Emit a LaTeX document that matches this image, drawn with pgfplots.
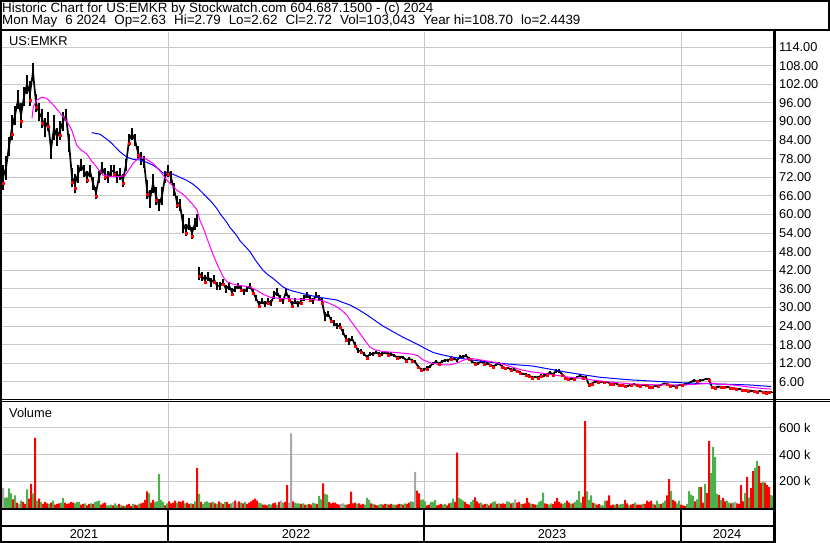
\documentclass[border=0pt]{standalone}
\usepackage{pgfplots}
\pgfplotsset{compat=1.18}
\usepackage{pgfplotstable}
\usepackage{fontspec}
\setmainfont{Liberation Sans}
\definecolor{gridc}{RGB}{200,200,200}
\definecolor{vred}{RGB}{255,0,0}
\definecolor{vgreen}{RGB}{76,177,76}
\definecolor{vgray}{RGB}{168,168,168}
\definecolor{maf}{RGB}{255,0,255}
\definecolor{mas}{RGB}{0,0,255}

\pgfplotstableread{
x c e m
3 72 4 1
6 75 4 0
9 82 3 0
12 88 4 1
15 92 3 0
18 97 3 0
21 92 4 1
24 98 3 0
27 102 3 0
30 99 4 1
33 106 3 0
36 96 3 1
39 93 3 0
42 91 3 1
45 88 3 0
48 90 3 1
51 81 3 0
54 88 4 0
57 85 3 0
60 87 3 1
63 90 3 0
66 92 2 0
69 83 3 0
72 72 3 1
75 70 3 1
78 73 3 0
81 76 2 0
84 74 2 0
87 72 2 1
90 74 2 0
93 70 2 0
96 67 2 1
99 72 2 0
102 75 2 0
105 73 2 1
108 72 2 0
111 74 2 0
114 74 2 1
117 72 2 0
120 73 2 0
123 71 2 1
126 76 2 0
129 84 2 1
132 86 2 0
135 84 2 0
138 80 2 1
141 78 2 0
144 77 2 0
147 68 3 1
150 65 3 0
153 70 3 0
156 66 3 1
159 63 2 0
162 66 3 0
165 72 2 0
168 74 2 1
171 72 2 0
174 68 2 0
177 64 2 1
180 63 2 0
183 57 3 0
186 55 2 1
189 57 2 0
192 54 2 1
195 57 2 0
197 58 2 0
198 nan 0 0
199 41 2 1
202 40 1.5 0
205 39 1.5 1
208 40 1.5 0
211 38 1.5 0
214 39 1.5 1
217 37 1.2 0
220 37 1.2 0
223 38 1.2 1
226 36 1.2 0
229 37 1.2 0
232 35 1.2 1
235 36 1 0
238 37 1 0
241 36 1 1
244 35 1 0
247 36 1 0
250 37 1 0
253 35 1 1
256 33 1 0
259 31 1 1
262 32 1 0
265 31 1 0
268 32 1 1
271 31.5 1 0
274 34 1.2 0
277 35 1.2 0
280 33 1 1
283 32 1 0
286 35 1.2 0
289 33 1 1
292 31 1 1
295 32 1 0
298 31 1 0
301 32 1 1
304 33 1 0
307 34 1 0
310 33 1 1
313 32 1 0
316 34 1 0
319 33 1 0
322 32 1 1
325 27 1.5 0
328 28 1 0
331 26 1 1
334 25 1 0
337 24 1 0
340 24 1 1
343 22 1 0
346 20 1 1
349 19 1 0
352 20 0.8 0
355 18 0.8 1
358 16 0.8 0
361 16 0.6 1
364 15 0.6 0
367 14 0.6 1
370 15 0.6 0
373 15 0.6 0
376 15.5 0.6 0
379 15 0.6 1
382 15 0.6 0
385 15.5 0.6 0
388 15 0.6 1
391 15 0.5 0
394 14.5 0.5 0
397 14 0.5 1
400 14 0.5 0
403 14 0.5 0
406 13 0.5 1
409 13.5 0.5 0
412 13 0.5 1
415 12.5 0.5 0
418 11 0.6 1
421 10 0.6 1
424 10 0.5 0
427 10.5 0.5 1
430 11 0.5 0
433 12 0.5 0
436 12.5 0.5 0
439 12 0.5 1
442 12.5 0.5 0
445 13 0.5 0
448 13 0.5 0
451 13.5 0.5 1
454 13.5 0.5 0
457 13 0.5 0
460 14 0.6 0
463 14 0.6 0
466 14.5 0.6 0
469 13.5 0.5 1
472 12.5 0.5 0
475 12 0.5 1
478 12 0.5 0
481 12.5 0.5 0
484 12 0.5 1
487 12 0.4 0
490 11.5 0.4 1
493 11 0.4 1
496 11.5 0.4 0
499 12 0.4 0
502 11 0.4 1
505 10.5 0.4 1
508 10.5 0.4 0
511 10 0.4 1
514 10 0.4 0
517 9.5 0.4 1
520 9 0.4 1
523 8.5 0.4 0
526 8.5 0.4 1
529 8 0.4 1
532 7.5 0.4 1
535 7.5 0.4 0
538 7.5 0.4 1
541 8 0.4 1
544 8 0.4 0
547 8.5 0.4 1
550 9 0.4 0
553 8.5 0.4 1
556 9.5 0.5 0
559 9.5 0.5 0
562 8.5 0.4 1
565 7.5 0.4 1
568 7 0.4 1
571 7 0.3 0
574 7 0.3 1
577 7.5 0.4 0
580 8 0.4 0
583 7.5 0.4 1
586 7.5 0.4 0
589 5 0.4 1
592 5.5 0.3 1
595 6 0.3 0
598 6 0.3 1
601 6 0.3 0
604 6 0.3 1
607 6 0.3 0
610 5.5 0.3 1
613 5.5 0.3 1
616 5.5 0.3 0
619 5 0.3 1
622 5 0.3 1
625 4.8 0.3 1
628 4.8 0.3 0
631 5 0.3 1
634 5.2 0.3 0
637 5 0.3 1
640 4.8 0.3 1
643 5 0.3 0
646 5 0.3 1
649 4.5 0.3 1
652 4.5 0.3 1
655 4.6 0.3 0
658 4.8 0.3 1
661 5 0.3 0
664 5.5 0.3 0
667 5.5 0.3 1
670 4.6 0.3 1
673 4.7 0.3 0
676 4.5 0.3 1
679 5 0.3 0
682 5 0.3 1
685 5.2 0.3 0
688 5.5 0.3 0
691 6 0.3 0
694 6.5 0.4 0
697 6.3 0.4 1
700 6.5 0.4 0
703 6.6 0.4 0
706 7 0.4 0
709 6.8 0.4 1
712 4.3 0.3 1
715 4.2 0.3 1
718 4.5 0.3 0
721 4.4 0.3 1
724 4.3 0.3 1
727 4.4 0.3 0
730 4.2 0.3 1
733 4 0.3 1
736 3.8 0.3 1
739 3.8 0.3 0
742 3.5 0.3 1
745 3.4 0.3 1
748 3.2 0.3 1
751 3.2 0.3 0
754 3 0.3 1
757 2.9 0.3 1
760 3 0.3 0
763 2.8 0.3 1
766 2.6 0.3 1
769 2.7 0.3 1
772 2.72 0.1 0
}\price

\pgfplotstableread{
x v
32 91
33.3 94.7
36.7 96.9
41.7 97.8
46.7 97.5
53.3 95.3
58 93.5
63.3 91.5
67 90
71.7 87.3
76.7 82.4
81 80.8
86.7 79.6
91 77.5
96.7 75.3
103 72.7
110 72.3
118 72.2
125 72.5
129 74.5
133 76.5
138 78
143 78.5
148 77.5
153 76.5
160 74
167 71
172 69.5
177 67.8
182 66.8
187 65.3
192 63.5
197 61.5
200 58
203.5 55.5
207 52.3
210 49.7
213.3 46.9
216.7 44.3
220 42
223.3 39.8
227 38.3
232 37.6
240 37.1
250 36.6
257 35.5
263 34.3
270 33.3
277 33
290 32.8
305 32.6
315 32.5
323 32.2
328 31.5
333 30.8
338 30
343 28.7
347 27.5
350 26
355 23.8
360 21.6
365 19.3
370 17.2
375 16.3
383 15.8
395 15.5
405 15.2
413 14.9
418 14.4
423 13.1
430 12.2
437 11.7
444 11.5
450 11.5
456 12
462 12.8
467 13.4
473 13.5
480 13.1
490 12.6
500 12
510 11
520 10
530 9.3
540 8.9
553 8.3
567 7.6
580 7.2
590 6.7
600 6.3
615 5.8
633 5.3
650 5.1
665 5
683 5
695 5.2
705 5.5
712 5.6
720 5.3
733 5
745 4.5
755 4.1
765 3.8
771 3.7
}\mafast

\pgfplotstableread{
x v
91.7 86.4
100 85.9
110 83.5
120 80.2
126.7 78.5
133 77.8
140 77.6
147 76.8
153 75.9
158 74.8
163 73.4
168 73.2
173 73
180 72
186.7 71
192 70
196.7 68.8
201 67.5
206.7 65.6
211 64.2
216.7 62
220 60.3
226.7 57.5
230 55.8
236.7 53.2
240 51.5
246.7 49.2
250 48
256 45
263 42
268 40.5
273 39.4
278 38
283 36.6
288 35.8
293 35.3
305 34.3
317 33.4
327 32.9
337 32.4
343 31.6
350 30.8
358 29.4
367 27.6
375 25.8
383 24
393 22.2
403 20.4
410 19.3
417 18.2
425 16.8
433 15.5
441 14.8
450 14.2
458 13.7
467 13.3
483 12.6
500 12
517 11.5
533 11.1
550 10.1
567 9.1
583 8.3
600 7.5
617 7
633 6.6
650 6.3
667 6
683 5.7
700 5.5
717 5.3
733 5.2
750 5
767 4.6
771 4.5
}\maslow

\pgfplotstableread{
x v k
3 150 2
5 75 1
7 80 1
9 148 1
11 110 1
13 65 0
15 95 1
17 40 0
19 30 2
21 55 1
23 45 0
25 30 0
27 140 1
29 70 0
31 180 0
33 110 1
35 525 0
37 55 1
39 70 0
41 45 1
43 30 0
45 45 0
47 35 0
49 30 1
51 40 0
53 55 1
55 25 0
57 30 0
59 35 0
61 40 1
63 75 1
65 40 0
67 30 0
69 35 0
71 45 0
73 40 0
75 35 1
77 45 1
79 45 1
81 25 0
83 30 0
85 35 1
87 20 0
89 30 0
91 35 1
93 30 0
95 45 1
97 50 1
99 55 1
101 25 0
103 35 0
105 40 0
107 20 1
109 20 1
111 25 1
113 20 0
115 35 1
117 20 1
119 30 0
121 20 1
123 15 0
125 15 1
127 25 0
129 30 0
131 15 0
133 30 1
135 25 0
137 20 0
139 30 1
141 35 0
143 40 0
145 60 0
147 125 0
149 110 1
151 40 0
153 60 0
155 45 1
157 50 1
159 255 1
161 60 1
163 45 1
165 20 0
167 35 1
169 50 0
171 35 0
173 40 0
175 55 0
177 40 1
179 50 0
181 45 0
183 55 0
185 35 1
187 40 0
189 30 0
191 35 1
193 30 0
195 50 1
197 300 0
199 105 1
201 45 0
203 30 1
205 45 1
207 50 1
209 40 1
211 40 0
213 45 1
215 35 0
217 30 1
219 50 0
221 40 1
223 30 0
225 45 1
227 45 0
229 30 0
231 35 1
233 45 2
235 55 0
237 40 2
239 50 0
241 40 1
243 35 0
245 45 1
247 30 0
249 40 0
251 50 0
253 60 0
255 70 0
257 55 0
259 40 1
261 35 1
263 25 0
265 25 0
267 20 0
269 30 1
271 25 1
273 35 0
275 40 0
277 25 1
279 45 0
281 55 2
283 40 1
285 45 0
287 172 0
289 40 2
291 560 2
293 50 0
295 40 1
297 35 1
299 35 1
301 30 0
303 35 1
305 25 0
307 25 1
309 30 0
311 25 0
313 40 1
315 35 1
317 30 0
319 90 1
321 65 1
323 185 0
325 105 1
327 100 1
329 45 0
331 35 0
333 40 0
335 40 0
337 30 0
339 25 0
341 30 2
343 35 2
345 25 1
347 25 0
349 30 0
351 123 0
353 35 0
355 40 0
357 30 1
359 35 0
361 25 0
363 30 0
365 25 1
367 75 1
369 60 1
371 35 0
373 30 1
375 25 0
377 20 0
379 25 1
381 30 1
383 25 0
385 30 0
387 30 1
389 25 0
391 30 0
393 25 1
395 25 1
397 25 0
399 30 0
401 30 1
403 25 0
405 35 1
407 30 0
409 40 0
411 50 1
413 45 1
415 270 2
417 130 0
419 110 0
421 60 1
423 65 1
425 50 1
427 20 0
429 25 0
431 45 1
433 45 1
435 60 1
437 20 0
439 25 0
441 30 0
443 25 1
445 30 1
447 20 0
449 35 0
451 40 1
453 70 1
455 45 0
457 415 0
459 75 1
461 65 1
463 55 1
465 45 0
467 30 0
469 25 0
471 45 1
473 60 1
475 80 0
477 50 0
479 35 0
481 40 1
483 25 0
485 30 0
487 30 1
489 20 0
491 35 0
493 45 1
495 50 1
497 30 0
499 35 1
501 30 0
503 35 0
505 30 0
507 50 1
509 45 1
511 35 0
513 40 1
515 65 2
517 40 0
519 45 0
521 30 1
523 30 0
525 35 0
527 75 0
529 40 0
531 30 1
533 30 0
535 25 0
537 25 1
539 45 1
541 55 1
543 115 1
545 35 0
547 30 0
549 25 1
551 35 1
553 30 0
555 50 0
557 75 0
559 45 0
561 35 0
563 30 1
565 40 1
567 55 0
569 40 0
571 30 1
573 35 0
575 45 1
577 60 1
579 127 1
581 40 1
583 85 0
585 652 0
587 125 1
589 60 1
591 95 1
593 40 0
595 35 1
597 25 0
599 30 0
601 20 1
603 20 1
605 55 1
607 55 0
609 95 0
611 20 0
613 25 0
615 25 1
617 30 0
619 25 1
621 30 1
623 30 1
625 60 0
627 35 0
629 20 1
631 25 0
633 30 0
635 40 1
637 25 0
639 25 0
641 25 0
643 30 1
645 30 0
647 55 0
649 45 0
651 55 0
653 30 1
655 25 0
657 55 1
659 30 1
661 30 0
663 40 1
665 55 1
667 95 0
669 217 0
671 127 1
673 60 0
675 50 0
677 35 1
679 55 1
681 25 0
683 20 0
685 15 0
687 30 1
689 127 1
691 100 1
693 90 1
695 50 0
697 65 1
699 157 1
701 157 0
703 40 0
705 180 1
707 112 0
709 502 0
711 262 1
713 457 1
715 382 1
717 105 1
719 97 0
721 60 1
723 75 0
725 50 0
727 55 1
729 40 1
731 35 0
733 40 1
735 45 2
737 35 0
739 30 0
741 172 0
743 50 0
745 112 1
747 232 0
749 80 1
751 150 0
753 277 0
755 300 1
757 352 1
759 315 0
761 187 0
763 195 1
765 190 0
767 172 0
769 157 0
771 97 1
773 90 1
}\vol

\begin{document}
\fontsize{12.8bp}{15bp}\selectfont
\begin{tikzpicture}[x=1bp,y=1bp]
\path[use as bounding box] (0,0) rectangle (830,543);

\begin{axis}[
  at={(2bp,143bp)}, anchor=south west, scale only axis,
  width=772bp, height=368bp,
  xmin=2, xmax=774, ymin=0.16, ymax=118.87,
  axis line style={draw=none},
  xtick={168,424,681}, xticklabels={},
  ytick={6,12,18,24,30,36,42,48,54,60,66,72,78,84,90,96,102,108,114},
  yticklabels={6.00,12.00,18.00,24.00,30.00,36.00,42.00,48.00,54.00,60.00,66.00,72.00,78.00,84.00,90.00,96.00,102.00,108.00,114.00},
  yticklabel pos=right,
  major tick length=0pt, tick style={draw=none},
  grid=major, major grid style={gridc, line width=1bp},
  yticklabel style={anchor=west, inner sep=0pt, xshift=5bp},
  unbounded coords=jump,
]
\addplot[black, line width=1.7bp,
  error bars/.cd, y dir=both, y explicit, error mark=none,
  error bar style={line width=1.6bp, black}]
  table[x=x, y=c, y error=e] \price;
\addplot[only marks, mark=square*, mark size=1bp, vred, draw=none,
  restrict expr to domain={\thisrow{m}}{1:1}]
  table[x=x, y expr=\thisrow{c}-0.5*\thisrow{e}] \price;
\addplot[mas, line width=1bp] table[x=x, y=v] \maslow;
\addplot[maf, line width=1bp] table[x=x, y=v] \mafast;
\end{axis}

\begin{axis}[
  at={(2bp,35bp)}, anchor=south west, scale only axis,
  width=772bp, height=105bp,
  xmin=2, xmax=774, ymin=0, ymax=787.5,
  axis line style={draw=none},
  xtick={168,424,681}, xticklabels={},
  ytick={200,400,600}, yticklabels={200 k,400 k,600 k},
  yticklabel pos=right,
  major tick length=0pt, tick style={draw=none},
  grid=major, major grid style={gridc, line width=1bp},
  yticklabel style={anchor=west, inner sep=0pt, xshift=5bp},
]
\addplot[ybar, bar width=2, bar shift=0, fill=vred, draw=none,
  restrict expr to domain={\thisrow{k}}{0:0}] table[x=x, y=v] \vol;
\addplot[ybar, bar width=2, bar shift=0, fill=vgreen, draw=none,
  restrict expr to domain={\thisrow{k}}{1:1}] table[x=x, y=v] \vol;
\addplot[ybar, bar width=2, bar shift=0, fill=vgray, draw=none,
  restrict expr to domain={\thisrow{k}}{2:2}] table[x=x, y=v] \vol;
\end{axis}

% frames
\draw[line width=2bp] (1,512.5) rectangle (829,542);
\draw[line width=2bp] (1,0) -- (1,543);
\draw[line width=3bp] (774,0) -- (774,512);
\draw[line width=1bp] (0,143) -- (830,143);
\draw[line width=1bp] (0,141) -- (830,141);
\draw[line width=2bp] (0,33.5) -- (774,33.5);
\draw[line width=2bp] (0,16.5) -- (774,16.5);
\draw[line width=2bp] (0,1) -- (774,1);
\foreach \xx in {168,424,681} \draw[line width=1.5bp] (\xx,1) -- (\xx,33.5);

% texts
{\fontsize{13.4bp}{15bp}\selectfont
\node[anchor=base west, inner sep=0pt] at (2,530) {Historic Chart for US:EMKR by Stockwatch.com 604.687.1500 - (c) 2024};
\node[anchor=base west, inner sep=0pt] at (2,518) {Mon May\hspace{0.6em}6 2024\hspace{0.6em}Op=2.63\hspace{0.6em}Hi=2.79\hspace{0.6em}Lo=2.62\hspace{0.6em}Cl=2.72\hspace{0.6em}Vol=103,043\hspace{0.6em}Year hi=108.70\hspace{0.6em}lo=2.4439};
}
\node[anchor=base west, inner sep=0pt] at (9,497) {US:EMKR};
\node[anchor=base west, inner sep=0pt] at (9,125) {Volume};
\node[anchor=base, inner sep=0pt] at (84,4) {2021};
\node[anchor=base, inner sep=0pt] at (296,4) {2022};
\node[anchor=base, inner sep=0pt] at (552,4) {2023};
\node[anchor=base, inner sep=0pt] at (727,4) {2024};
\end{tikzpicture}
\end{document}
